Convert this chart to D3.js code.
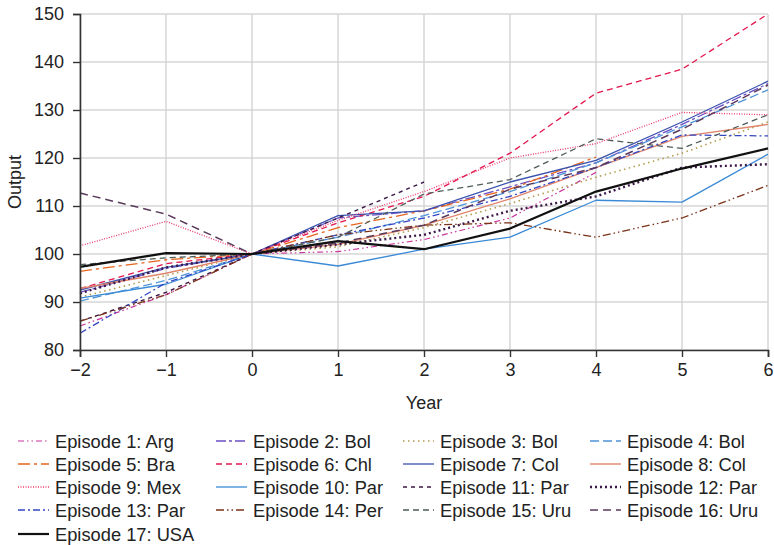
<!DOCTYPE html>
<html>
<head>
<meta charset="utf-8">
<script src="https://cdn.jsdelivr.net/npm/d3@7"></script>
<style>
  body { margin: 0; background: #fff; }
  svg { display: block; font-family: "Liberation Sans", Arial, sans-serif; }
</style>
</head>
<body>
<div id="chart"></div>
<script>
// years on the x axis
var years = [-2, -1, 0, 1, 2, 3, 4, 5, 6]
var yTicks = [80, 90, 100, 110, 120, 130, 140, 150]

// output index per episode (null = no data)
var ep1Arg  = [85.0, 91.5, 100, 100.5, 103.0, 107.5, 117.0, null, null]
var ep2Bol  = [92.0, 97.0, 100, 107.5, 109.0, 114.0, 119.0, 127.0, 135.5]
var ep3Bol  = [91.0, 95.5, 100, 101.5, 105.5, 110.5, 116.0, 121.0, 127.5]
var ep4Bol  = [90.2, 94.5, 100, 103.5, 108.0, 113.0, 119.0, 126.5, 134.2]
var ep5Bra  = [96.4, 98.8, 100, 105.5, 109.0, 113.5, 120.2, null, null]
var ep6Chl  = [92.8, 98.0, 100, 106.5, 112.0, 121.0, 133.5, 138.5, 150.0]
var ep7Col  = [92.5, 97.2, 100, 108.0, 109.0, 115.0, 119.5, 127.5, 136.0]
var ep8Col  = [92.8, 96.0, 100, 102.0, 106.0, 111.5, 118.0, 124.5, 127.0]
var ep9Mex  = [101.7, 106.8, 100, 107.0, 113.0, 120.0, 123.0, 129.5, 129.0]
var ep10Par = [90.8, 93.7, 100, 97.5, 101.0, 103.5, 111.2, 110.8, 120.8]
var ep11Par = [86.0, 92.0, 100, 107.5, 115.0, null, null, null, null]
var ep12Par = [91.8, 97.2, 100, 102.0, 104.0, 109.0, 112.0, 118.0, 118.7]
var ep13Par = [83.5, 94.0, 100, 104.0, 107.5, 112.0, 118.0, 124.8, 124.6]
var ep14Per = [86.0, 91.5, 100, 104.0, 106.0, 106.5, 103.5, 107.5, 114.3]
var ep15Uru = [97.8, 99.2, 100, 103.5, 112.5, 115.5, 124.0, 122.0, 129.0]
var ep16Uru = [112.7, 108.3, 100, 102.3, 106.0, 113.5, 118.0, 126.0, 135.2]
var ep17USA = [97.3, 100.2, 100, 102.7, 101.0, 105.3, 113.0, 117.8, 122.0]

var labels = ['Episode 1: Arg', 'Episode 2: Bol', 'Episode 3: Bol', 'Episode 4: Bol',
  'Episode 5: Bra', 'Episode 6: Chl', 'Episode 7: Col', 'Episode 8: Col',
  'Episode 9: Mex', 'Episode 10: Par', 'Episode 11: Par', 'Episode 12: Par',
  'Episode 13: Par', 'Episode 14: Per', 'Episode 15: Uru', 'Episode 16: Uru',
  'Episode 17: USA']
var values = [ep1Arg, ep2Bol, ep3Bol, ep4Bol, ep5Bra, ep6Chl, ep7Col, ep8Col,
  ep9Mex, ep10Par, ep11Par, ep12Par, ep13Par, ep14Per, ep15Uru, ep16Uru, ep17USA]

// line styles
var styles = [
  { c: '#c8359c', w: 1.2, d: '6,3,1.5,3,1.5,3' },
  { c: '#6a4fc4', w: 1.3, d: '10,3,3,3' },
  { c: '#b39b4e', w: 1.6, d: '1.5,3.5' },
  { c: '#4f94d8', w: 1.3, d: '9,4' },
  { c: '#e5651d', w: 1.3, d: '12,4,3,4' },
  { c: '#e3174e', w: 1.3, d: '6,4' },
  { c: '#3b53ae', w: 1.3, d: null },
  { c: '#e0846a', w: 1.4, d: null },
  { c: '#ee3a6a', w: 1.3, d: '1,1.5' },
  { c: '#3a8ad6', w: 1.3, d: null },
  { c: '#3c1848', w: 1.4, d: '4,4' },
  { c: '#3c1848', w: 2.4, d: '2,3' },
  { c: '#3346c4', w: 1.3, d: '7,3,2,3' },
  { c: '#7a3218', w: 1.3, d: '8,3,1.5,3,1.5,3' },
  { c: '#4e5c58', w: 1.3, d: '6,4' },
  { c: '#5a3a5c', w: 1.5, d: '8,5' },
  { c: '#111111', w: 2.2, d: null }
]

var W = 774, H = 545
var margin = { top: 14, right: 6, bottom: 195, left: 80 }
var width = W - margin.left - margin.right
var height = H - margin.top - margin.bottom

var svg = d3.select('#chart').append('svg')
  .attr('width', W)
  .attr('height', H)

var x = d3.scaleLinear().domain([-2, 6]).range([margin.left, margin.left + width])
var y = d3.scaleLinear().domain([80, 150]).range([margin.top + height, margin.top])

var fmt = function(d) { return d < 0 ? '\u2212' + Math.abs(d) : String(d) }

// grid
var grid = svg.append('g')
grid.selectAll('.vg').data(years).enter().append('line')
  .attr('x1', d => x(d)).attr('x2', d => x(d))
  .attr('y1', y(150)).attr('y2', y(80))
  .attr('stroke', '#d6d6d6').attr('stroke-width', 1.5)
grid.selectAll('.hg').data(yTicks).enter().append('line')
  .attr('x1', x(-2)).attr('x2', x(6))
  .attr('y1', d => y(d)).attr('y2', d => y(d))
  .attr('stroke', '#d6d6d6').attr('stroke-width', 1.5)

// series
var line = d3.line()
  .defined(d => d[1] != null)
  .x(d => x(d[0]))
  .y(d => y(d[1]))

values.forEach(function(vals, i) {
  var pts = years.map((yr, j) => [yr, vals[j]])
  svg.append('path')
    .datum(pts)
    .attr('fill', 'none')
    .attr('stroke', styles[i].c)
    .attr('stroke-width', styles[i].w)
    .attr('stroke-dasharray', styles[i].d)
    .attr('stroke-linejoin', 'round')
    .attr('d', line)
})

// axes
var xAxis = svg.append('g')
  .attr('transform', 'translate(0,' + y(80) + ')')
  .call(d3.axisBottom(x).tickValues(years).tickFormat(fmt).tickSizeOuter(0).tickSize(7).tickPadding(6))
var yAxis = svg.append('g')
  .attr('transform', 'translate(' + x(-2) + ',0)')
  .call(d3.axisLeft(y).tickValues(yTicks).tickSizeOuter(0).tickSize(7).tickPadding(9))
;[xAxis, yAxis].forEach(function(g) {
  g.select('.domain').attr('stroke', '#333').attr('stroke-width', 1.6)
  g.selectAll('.tick line').attr('stroke', '#333').attr('stroke-width', 1.4)
  g.selectAll('.tick text').attr('fill', '#222').attr('font-size', 18)
    .attr('font-family', '"Liberation Sans", Arial, sans-serif')
})

svg.append('text')
  .attr('x', x(2)).attr('y', 409)
  .attr('text-anchor', 'middle')
  .attr('font-size', 18).attr('fill', '#222')
  .text('Year')
svg.append('text')
  .attr('transform', 'translate(21,' + y(115) + ') rotate(-90)')
  .attr('text-anchor', 'middle')
  .attr('font-size', 18).attr('fill', '#222')
  .text('Output')

// legend
var colX = [18, 216, 403, 590]
var rowY = [441, 464, 487, 510, 534]
var legend = svg.append('g')
labels.forEach(function(lab, i) {
  var cx = colX[i % 4], cy = rowY[Math.floor(i / 4)]
  legend.append('line')
    .attr('x1', cx).attr('x2', cx + 31)
    .attr('y1', cy).attr('y2', cy)
    .attr('stroke', styles[i].c)
    .attr('stroke-width', styles[i].w)
    .attr('stroke-dasharray', styles[i].d)
  legend.append('text')
    .attr('x', cx + 37).attr('y', cy + 6.5)
    .attr('font-size', 18.3).attr('fill', '#222')
    .text(lab)
})
</script>
</body>
</html>
